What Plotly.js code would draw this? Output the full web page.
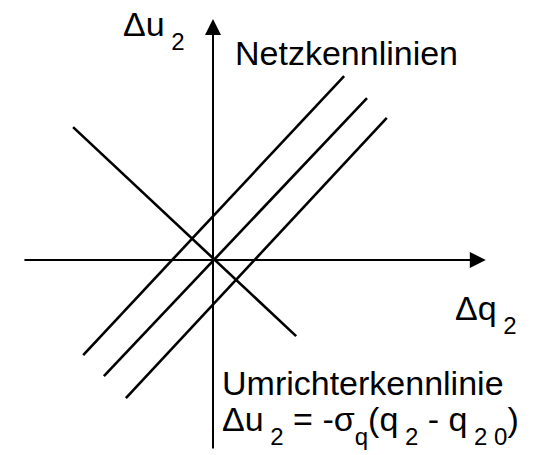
<!DOCTYPE html>
<html>
<head>
<meta charset="utf-8">
<script src="https://cdn.plot.ly/plotly-3.0.1.min.js"></script>
<style>
  html, body { margin: 0; padding: 0; background: #fff; }
  #chart { width: 543px; height: 455px; }
</style>
</head>
<body>
<div id="chart"></div>
<script>
// Δq2 / Δu2 plane (units: one line spacing = 1)
// Netzkennlinien: three parallel grid characteristics
const netz1X = [-2.95, 2.98];
const netz1Y = [-2.16, 4.18];
const netz2X = [-2.48, 3.50];
const netz2Y = [-2.64, 3.68];
const netz3X = [-1.98, 3.95];
const netz3Y = [-3.14, 3.23];

// Umrichterkennlinie: converter droop characteristic
const umrX = [-3.18, 1.89];
const umrY = [3.02, -1.73];

// axis extents (start, arrow tip)
const qAxis = [-4.32, 6.20];
const uAxis = [-4.32, 5.48];

// subscripts are drawn smaller and well below the baseline
const sub = (t) => "<span style='font-size:24px;baseline-shift:-14px'>" + t + "</span>";

// text labels
const labelU = "Δu" + sub(" 2");
const labelQ = "Δq" + sub(" 2");
const labelNetz = "Netzkennlinien";
const labelUmr = "Umrichterkennlinie";
const labelFormula = "Δu" + sub(" 2") + " = -σ" + sub("q") + "(q" + sub(" 2") + " - q" + sub(" 2 0") + ")";

const W = 543, H = 455;
const px = (x) => x / W;
const py = (y) => 1 - y / H;

const lineStyle = { color: '#000', width: 2.6 };
const mk = (x, y) => ({ x: x, y: y, type: 'scatter', mode: 'lines', line: lineStyle, hoverinfo: 'skip', showlegend: false });

const traces = [
  mk(netz1X, netz1Y),
  mk(netz2X, netz2Y),
  mk(netz3X, netz3Y),
  mk(umrX, umrY)
];

const font = { family: 'Liberation Sans, Arial, Helvetica, sans-serif', size: 34, color: '#000' };

const textAnn = (text, x, y) => ({
  text: text, xref: 'paper', yref: 'paper', x: px(x), y: py(y),
  xanchor: 'left', yanchor: 'middle', showarrow: false, font: font, align: 'left'
});

const arrowAnn = (x, y, ax, ay) => ({
  x: x, y: y, ax: ax, ay: ay, xref: 'x', yref: 'y', axref: 'x', ayref: 'y',
  showarrow: true, arrowhead: 2, arrowsize: 1.6, arrowwidth: 2, arrowcolor: '#000', text: ''
});

const layout = {
  width: W, height: H,
  margin: { l: 0, r: 0, t: 0, b: 0, pad: 0 },
  paper_bgcolor: '#fff', plot_bgcolor: '#fff',
  xaxis: { range: [-213 / 44, (543 - 213) / 44], visible: false, fixedrange: true },
  yaxis: { range: [-(455 - 260) / 44, 260 / 44], visible: false, fixedrange: true },
  showlegend: false,
  annotations: [
    arrowAnn(qAxis[1], 0, qAxis[0], 0),
    arrowAnn(0, uAxis[1], 0, uAxis[0]),
    textAnn(labelU, 121, 30),
    textAnn(labelNetz, 233, 53),
    textAnn(labelQ, 453, 314),
    textAnn(labelUmr, 220, 383),
    textAnn(labelFormula, 220, 425)
  ]
};

Plotly.newPlot('chart', traces, layout, { displayModeBar: false, staticPlot: true });
</script>
</body>
</html>
